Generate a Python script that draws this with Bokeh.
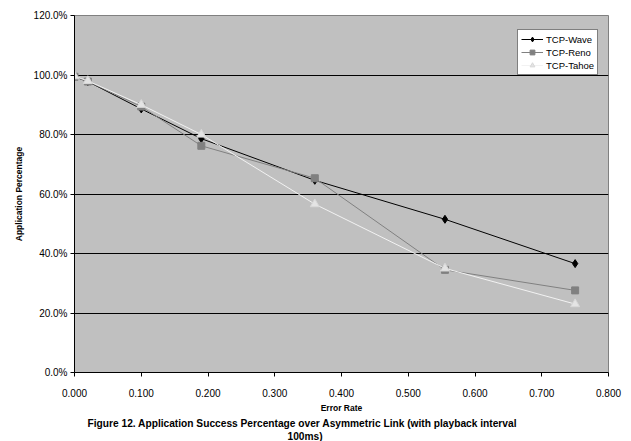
from bokeh.plotting import figure
from bokeh.models import FixedTicker, PrintfTickFormatter, Range1d, Title, Legend, LegendItem
from bokeh.embed import file_html
from bokeh.resources import INLINE

# Data
error_rate = [0.0, 0.02, 0.1, 0.19, 0.36, 0.555, 0.75]
tcp_wave = [99.4, 97.8, 88.6, 78.6, 64.6, 51.5, 36.6]
tcp_reno = [99.4, 97.8, 89.4, 76.2, 65.3, 34.5, 27.6]
tcp_tahoe = [99.6, 98.0, 90.0, 80.0, 56.6, 35.0, 23.0]

x_ticks = [0.0, 0.1, 0.2, 0.3, 0.4, 0.5, 0.6, 0.7, 0.8]
y_ticks = [0, 20, 40, 60, 80, 100, 120]

FONT = "Liberation Sans"

p = figure(width=631, height=441, output_backend="svg", toolbar_location=None,
           x_range=Range1d(0, 0.8), y_range=Range1d(0, 120),
           min_border_left=74, min_border_right=23, min_border_top=15,
           min_border_bottom=10)

p.background_fill_color = "#C0C0C0"
p.border_fill_color = "white"
p.outline_line_color = "#808080"
p.outline_line_width = 1

p.xgrid.visible = False
p.ygrid.grid_line_color = "black"
p.ygrid.grid_line_width = 1
p.ygrid.ticker = FixedTicker(ticks=y_ticks)

for ax in (p.xaxis[0], p.yaxis[0]):
    ax.axis_line_color = "black"
    ax.major_tick_line_color = "black"
    ax.minor_tick_line_color = None
    ax.major_tick_in = 0
    ax.major_tick_out = 4
    ax.major_label_text_font = FONT
    ax.major_label_text_font_size = "10px"
    ax.major_label_text_color = "black"
    ax.axis_label_text_font = FONT
    ax.axis_label_text_font_size = "8.5px"
    ax.axis_label_text_font_style = "bold"
    ax.axis_label_text_color = "black"

p.xaxis.ticker = FixedTicker(ticks=x_ticks)
p.xaxis.formatter = PrintfTickFormatter(format="%.3f")
p.xaxis.axis_label = "Error Rate"
p.xaxis.major_label_standoff = 12
p.xaxis.axis_label_standoff = 3

p.yaxis.ticker = FixedTicker(ticks=y_ticks)
p.yaxis.formatter = PrintfTickFormatter(format="%.1f%%")
p.yaxis.axis_label = "Application Percentage"
p.yaxis.major_label_standoff = 3
p.yaxis.axis_label_standoff = 7

# Series
lw = p.line(error_rate, tcp_wave, line_color="black", line_width=1)
mw = p.scatter(error_rate, tcp_wave, marker="diamond", size=8,
               fill_color="black", line_color="black")
lr = p.line(error_rate, tcp_reno, line_color="#808080", line_width=1)
mr = p.scatter(error_rate, tcp_reno, marker="square", size=7,
               fill_color="#808080", line_color="#808080")
lt = p.line(error_rate, tcp_tahoe, line_color="#F2F2F2", line_width=1)
mt = p.scatter(error_rate, tcp_tahoe, marker="triangle", size=9,
               fill_color="#E4E4E4", line_color="#D8D8D8")

legend = Legend(items=[
    LegendItem(label="TCP-Wave", renderers=[lw, mw]),
    LegendItem(label="TCP-Reno", renderers=[lr, mr]),
    LegendItem(label="TCP-Tahoe", renderers=[lt, mt]),
], location=(443, 297))
legend.label_text_font = FONT
legend.label_text_font_size = "9.5px"
legend.label_text_color = "black"
legend.glyph_width = 22
legend.glyph_height = 12
legend.label_height = 12
legend.label_standoff = 3
legend.spacing = 1
legend.padding = 3
legend.margin = 0
legend.border_line_color = "black"
legend.border_line_width = 1
legend.background_fill_color = "white"
legend.background_fill_alpha = 1.0
p.add_layout(legend, "center")

cap1 = Title(text="Figure 12. Application Success Percentage over Asymmetric Link (with playback interval",
             align="left", offset=13, text_font=FONT, text_font_size="10.2px",
             text_font_style="bold", text_color="black", standoff=0)
cap2 = Title(text="100ms)", align="left", offset=213, text_font=FONT,
             text_font_size="10.2px", text_font_style="bold", text_color="black", standoff=0)
p.add_layout(cap1, "below")
p.add_layout(cap2, "below")

open("out.html", "w").write(file_html(p, INLINE))
